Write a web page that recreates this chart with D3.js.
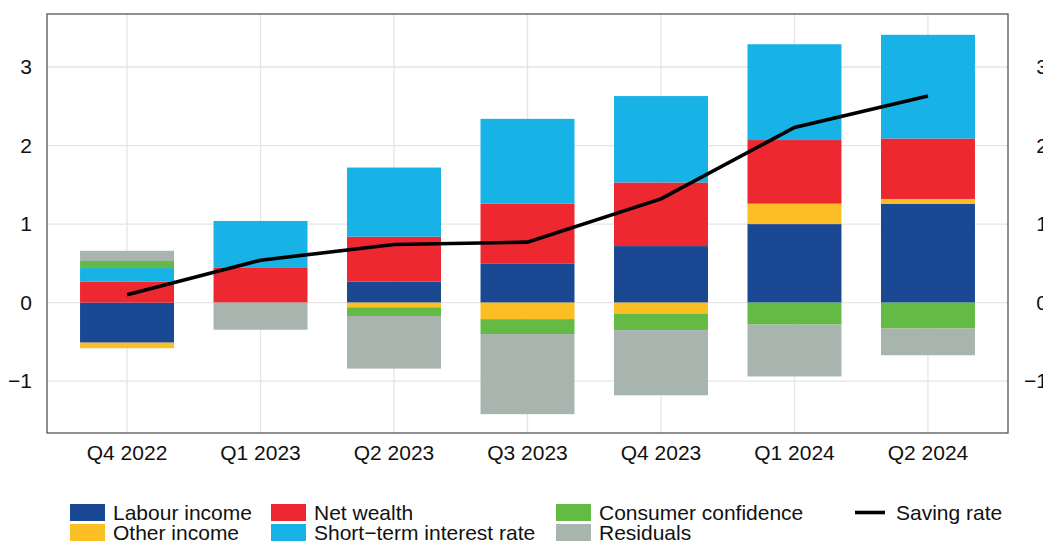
<!DOCTYPE html>
<html>
<head>
<meta charset="utf-8">
<script src="https://cdn.jsdelivr.net/npm/d3@7"></script>
<style>
  body { margin: 0; background: #fff; }
  svg { display: block; font-family: "Liberation Sans", Arial, sans-serif; }
</style>
</head>
<body>
<div id="container"></div>
<script>
// data
const quarters = ['Q4 2022', 'Q1 2023', 'Q2 2023', 'Q3 2023', 'Q4 2023', 'Q1 2024', 'Q2 2024'];
const labourIncome = [-0.51, 0, 0.27, 0.50, 0.72, 1.00, 1.26];
const otherIncome = [-0.07, 0, -0.06, -0.21, -0.14, 0.26, 0.06];
const netWealth = [0.27, 0.45, 0.57, 0.76, 0.81, 0.81, 0.77];
const shortRate = [0.17, 0.59, 0.88, 1.08, 1.10, 1.22, 1.32];
const confidence = [0.09, 0, -0.11, -0.19, -0.21, -0.28, -0.33];
const residuals = [0.13, -0.345, -0.67, -1.02, -0.83, -0.66, -0.34];
const savingRate = [0.10, 0.54, 0.74, 0.77, 1.32, 2.23, 2.63];
const yTicks = [-1, 0, 1, 2, 3];

const series = [
    { key: 'Labour income', values: labourIncome, color: '#1a4893' },
    { key: 'Other income', values: otherIncome, color: '#fcbe25' },
    { key: 'Net wealth', values: netWealth, color: '#ee2830' },
    { key: 'Short\u2212term interest rate', values: shortRate, color: '#17b2e6' },
    { key: 'Consumer confidence', values: confidence, color: '#63bb46' },
    { key: 'Residuals', values: residuals, color: '#a8b5af' }
];

const W = 1043, H = 542;
const plot = { left: 47, right: 1008, top: 14, bottom: 433 };

const svg = d3.select('#container')
    .append('svg')
    .attr('width', W)
    .attr('height', H);

const x = d3.scaleBand()
    .domain(quarters)
    .range([plot.left, plot.right])
    .paddingInner(0.296)
    .paddingOuter(0.2475);

const y = d3.scaleLinear()
    .domain([-1.66, 3.675])
    .range([plot.bottom, plot.top]);

const mid = d => x(d) + x.bandwidth() / 2;

// grid
const grid = svg.append('g').attr('stroke', '#e5e5e5').attr('stroke-width', 1.3);
grid.selectAll('line.h')
    .data(yTicks).enter()
    .append('line')
    .attr('x1', plot.left).attr('x2', plot.right)
    .attr('y1', d => y(d)).attr('y2', d => y(d));
grid.selectAll('line.v')
    .data(quarters).enter()
    .append('line')
    .attr('x1', d => mid(d)).attr('x2', d => mid(d))
    .attr('y1', plot.top).attr('y2', plot.bottom);

// stacked bars
const rows = quarters.map((q, i) => {
    const r = { q };
    series.forEach(s => { r[s.key] = s.values[i]; });
    return r;
});
const stacked = d3.stack()
    .keys(series.map(s => s.key))
    .offset(d3.stackOffsetDiverging)(rows);

svg.append('g')
    .selectAll('g')
    .data(stacked).enter()
    .append('g')
    .attr('fill', (d, i) => series[i].color)
    .selectAll('rect')
    .data(d => d).enter()
    .append('rect')
    .attr('x', d => x(d.data.q))
    .attr('width', x.bandwidth())
    .attr('y', d => y(Math.max(d[0], d[1])))
    .attr('height', d => Math.abs(y(d[0]) - y(d[1])));

// saving rate line
const line = d3.line()
    .x((d, i) => mid(quarters[i]))
    .y(d => y(d));
svg.append('path')
    .datum(savingRate)
    .attr('d', line)
    .attr('fill', 'none')
    .attr('stroke', '#000')
    .attr('stroke-width', 3.6);

// frame
svg.append('rect')
    .attr('x', plot.left).attr('y', plot.top)
    .attr('width', plot.right - plot.left)
    .attr('height', plot.bottom - plot.top)
    .attr('fill', 'none')
    .attr('stroke', '#555')
    .attr('stroke-width', 1.3);

// axes
const fmt = d => d < 0 ? '\u2212' + Math.abs(d) : d;
const left = svg.append('g')
    .attr('transform', `translate(${plot.left},0)`)
    .call(d3.axisLeft(y).tickValues(yTicks).tickFormat(fmt).tickSize(0).tickPadding(15));
// right labels are right-aligned and run off the page edge
const right = svg.append('g')
    .attr('transform', `translate(${plot.right + 40},0)`)
    .call(d3.axisLeft(y).tickValues(yTicks).tickFormat(fmt).tickSize(0).tickPadding(0));
const bottom = svg.append('g')
    .attr('transform', `translate(0,${plot.bottom})`)
    .call(d3.axisBottom(x).tickSize(0).tickPadding(12));
[left, right, bottom].forEach(a => {
    a.select('.domain').remove();
    a.selectAll('text')
        .attr('font-family', '"Liberation Sans", Arial, sans-serif')
        .attr('font-size', 21)
        .attr('fill', '#111');
});

// legend
const legendItems = [
    { i: 0, x: 70, y: 504 },
    { i: 1, x: 70, y: 524 },
    { i: 2, x: 271, y: 504 },
    { i: 3, x: 271, y: 524 },
    { i: 4, x: 556, y: 504 },
    { i: 5, x: 556, y: 524 }
];
const legend = svg.append('g');
legendItems.forEach(it => {
    const s = series[it.i];
    legend.append('rect')
        .attr('x', it.x).attr('y', it.y)
        .attr('width', 35).attr('height', 17)
        .attr('fill', s.color);
    legend.append('text')
        .attr('x', it.x + 43).attr('y', it.y + 16)
        .attr('font-size', 21)
        .attr('fill', '#111')
        .text(s.key);
});
legend.append('line')
    .attr('x1', 855).attr('x2', 885)
    .attr('y1', 512.5).attr('y2', 512.5)
    .attr('stroke', '#000').attr('stroke-width', 3.6);
legend.append('text')
    .attr('x', 896).attr('y', 520)
    .attr('font-size', 21)
    .attr('fill', '#111')
    .text('Saving rate');
</script>
</body>
</html>
